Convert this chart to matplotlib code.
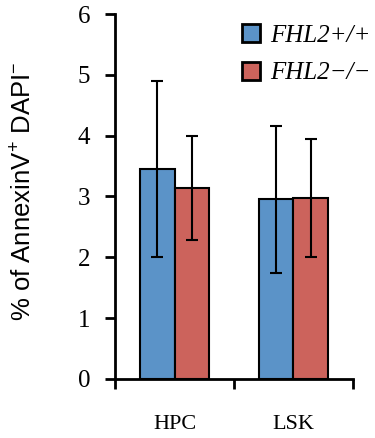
import numpy as np
import matplotlib
matplotlib.use("Agg")
import matplotlib.pyplot as plt
from matplotlib.patches import Patch

plt.rcParams["mathtext.fontset"] = "custom"
plt.rcParams["mathtext.rm"] = "Liberation Sans"
plt.rcParams["mathtext.it"] = "Liberation Sans:italic"

categories = ["HPC", "LSK"]
wt_mean = [3.45, 2.95]
wt_err = [1.45, 1.21]
ko_mean = [3.14, 2.97]
ko_err = [0.86, 0.97]
series_labels = ["FHL2+/+", "FHL2\u2212/\u2212"]
colors = ["#5b93c8", "#cc635c"]

fig = plt.figure(figsize=(3.75, 4.38), dpi=100)
ax = fig.add_axes([0.307, 0.135, 0.634, 0.833])

x = np.arange(len(categories))
w = 0.29
ax.bar(x - w / 2, wt_mean, w, color=colors[0], edgecolor="black", linewidth=1.5,
       yerr=wt_err, error_kw=dict(ecolor="black", elinewidth=1.5, capsize=4, capthick=1.5))
ax.bar(x + w / 2, ko_mean, w, color=colors[1], edgecolor="black", linewidth=1.5,
       yerr=ko_err, error_kw=dict(ecolor="black", elinewidth=1.5, capsize=4, capthick=1.5))

ax.set_xlim(-0.5, len(categories) - 0.5)
ax.set_ylim(0, 6)
ax.set_yticks(range(7))
ax.set_xticks(x)
ax.set_xticklabels(categories, family="Liberation Serif", fontsize=16)
ax.set_xticks(np.arange(-0.5, len(categories)), minor=True)
ax.tick_params(axis="x", which="major", length=0, pad=26)
ax.tick_params(axis="x", which="minor", length=7, width=2, direction="out")
ax.tick_params(axis="y", length=7, width=2, direction="out", pad=11)
for lab in ax.get_yticklabels():
    lab.set_family("Liberation Serif")
    lab.set_fontsize(18)

for s in ["top", "right"]:
    ax.spines[s].set_visible(False)
for s in ["left", "bottom"]:
    ax.spines[s].set_linewidth(2)

ax.set_ylabel("% of AnnexinV$^{+}$ DAPI$^{-}$", fontsize=18.5, family="Liberation Sans")
ax.yaxis.set_label_coords(-0.33, 0.515)

handles = [Patch(facecolor=c, edgecolor="black", linewidth=2) for c in colors]
ax.legend(handles, series_labels, loc="upper right", bbox_to_anchor=(1.17, 1.035),
          frameon=False, handlelength=0.75, handleheight=0.75, handletextpad=0.4,
          labelspacing=0.6, prop=dict(family="Liberation Serif", style="italic", size=18))

fig.savefig("out.png", dpi=100)
